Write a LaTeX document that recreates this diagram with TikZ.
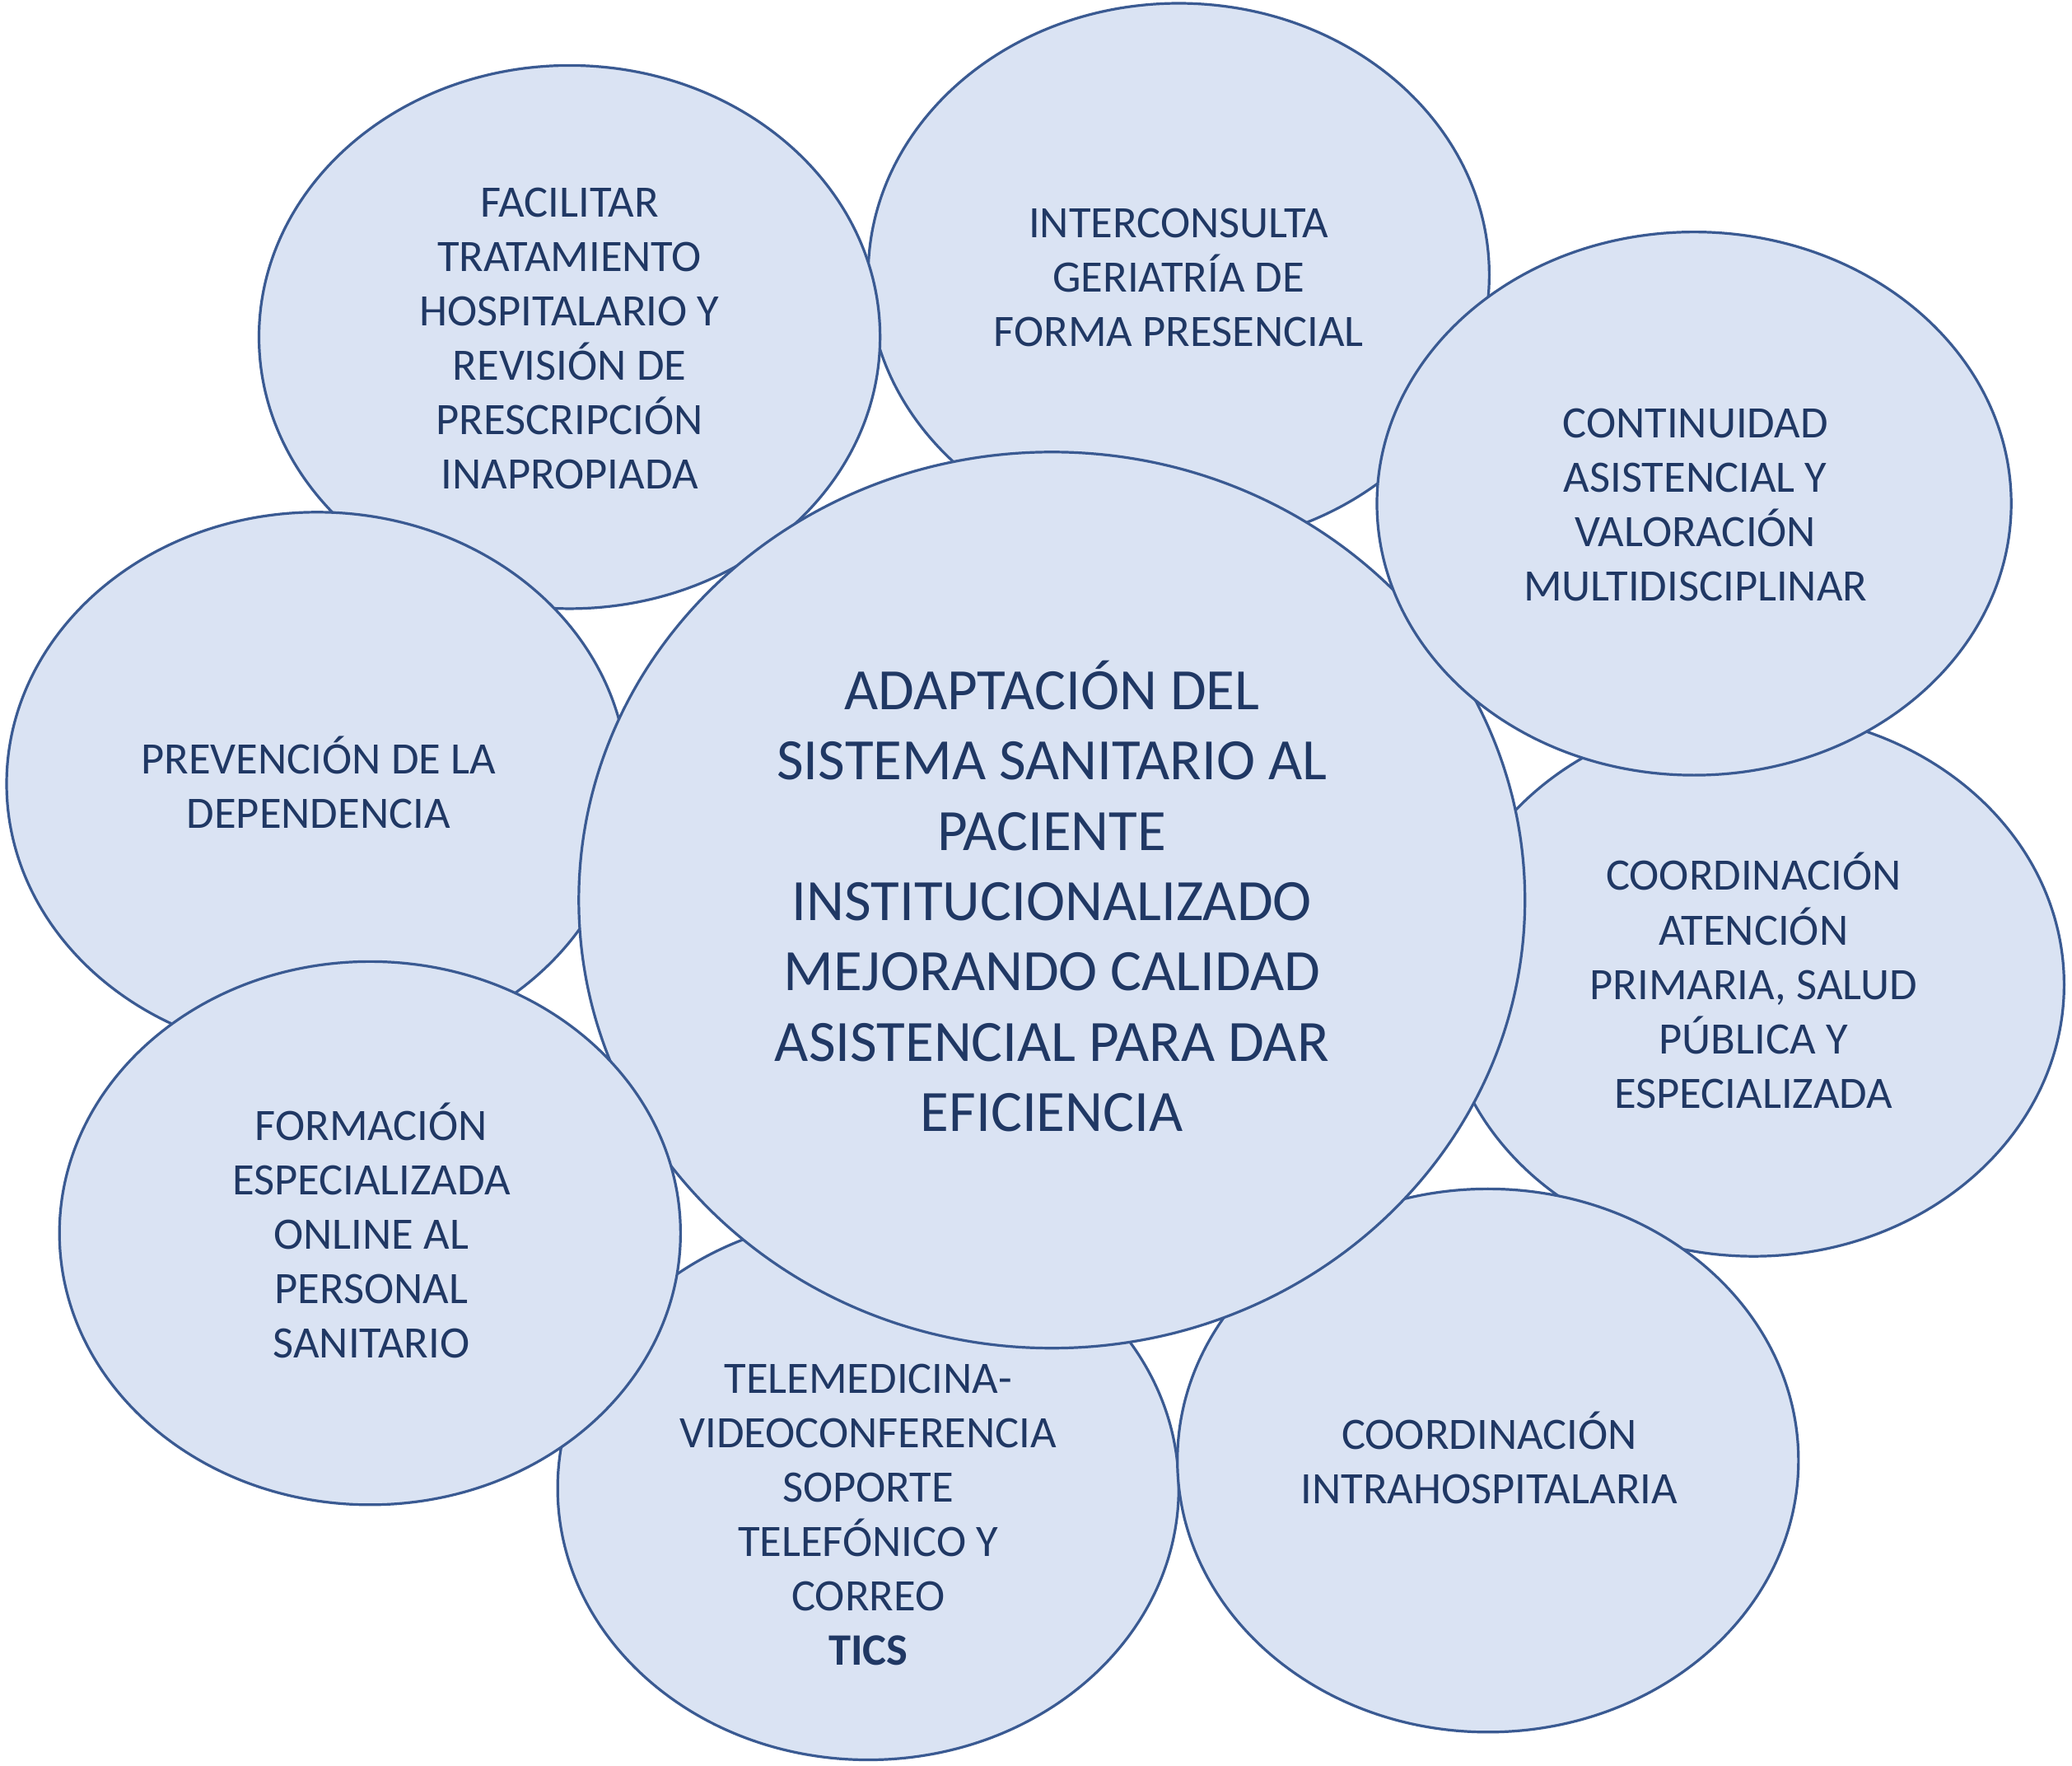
\documentclass[tikz,border=0pt]{standalone}
\usepackage{fontspec}
\setmainfont{Carlito}
\usetikzlibrary{shapes.geometric}
\definecolor{bubfill}{HTML}{DAE3F3}
\definecolor{bubline}{HTML}{3A5A92}
\definecolor{bubtext}{HTML}{203864}
\tikzset{
  bub/.style={ellipse, draw=bubline, fill=bubfill, line width=2pt, inner sep=0pt},
  smallbub/.style={bub, minimum width=470pt, minimum height=411pt},
  lbl/.style={align=center, text=bubtext, inner sep=0pt, font=\fontsize{34}{41.2}\selectfont},
  biglbl/.style={lbl, font=\fontsize{44.3}{53.2}\selectfont}
}
\begin{document}
\begin{tikzpicture}[x=1pt,y=-1pt]
\fill[white] (0,0) rectangle (1568,1336);
\useasboundingbox (0,0) rectangle (1568,1336);
% ellipses, bottom to top
\node[smallbub] (ic) at (892,208) {};
\node[smallbub] (fa) at (431,255) {};
\node[smallbub] (pr) at (240,593) {};
\node[smallbub] (ca) at (1327,745) {};
\node[smallbub] (te) at (657,1126) {};
\node[smallbub] (ci) at (1126,1105) {};
\node[bub, minimum width=716pt, minimum height=678pt] (ce) at (796,681) {};
\node[smallbub] (fo) at (280,933) {};
\node[bub, minimum width=480pt, minimum height=411pt] (co) at (1282,381) {};
% labels
\node[lbl] (tfa) at (431,256) {FACILITAR\\TRATAMIENTO\\HOSPITALARIO Y\\REVISIÓN DE\\PRESCRIPCIÓN\\INAPROPIADA};
\node[lbl] (tic) at (892,210) {INTERCONSULTA\\GERIATRÍA DE\\FORMA PRESENCIAL};
\node[lbl] (tco) at (1283,382) {CONTINUIDAD\\ASISTENCIAL Y\\VALORACIÓN\\MULTIDISCIPLINAR};
\node[lbl] (tpr) at (241,592) {PREVENCIÓN DE LA\\DEPENDENCIA};
\node[biglbl] (tce) at (796,678) {ADAPTACIÓN DEL\\SISTEMA SANITARIO AL\\PACIENTE\\INSTITUCIONALIZADO\\MEJORANDO CALIDAD\\ASISTENCIAL PARA DAR\\EFICIENCIA};
\node[lbl] (tca) at (1327,742) {COORDINACIÓN\\ATENCIÓN\\PRIMARIA, SALUD\\PÚBLICA Y\\ESPECIALIZADA};
\node[lbl] (tfo) at (281,931) {FORMACIÓN\\ESPECIALIZADA\\ONLINE AL\\PERSONAL\\SANITARIO};
\node[lbl] (tte) at (657,1146) {TELEMEDICINA-\\VIDEOCONFERENCIA\\SOPORTE\\TELEFÓNICO Y\\CORREO\\\textbf{TICS}};
\node[lbl] (tci) at (1127,1103) {COORDINACIÓN\\INTRAHOSPITALARIA};
\end{tikzpicture}
\end{document}
